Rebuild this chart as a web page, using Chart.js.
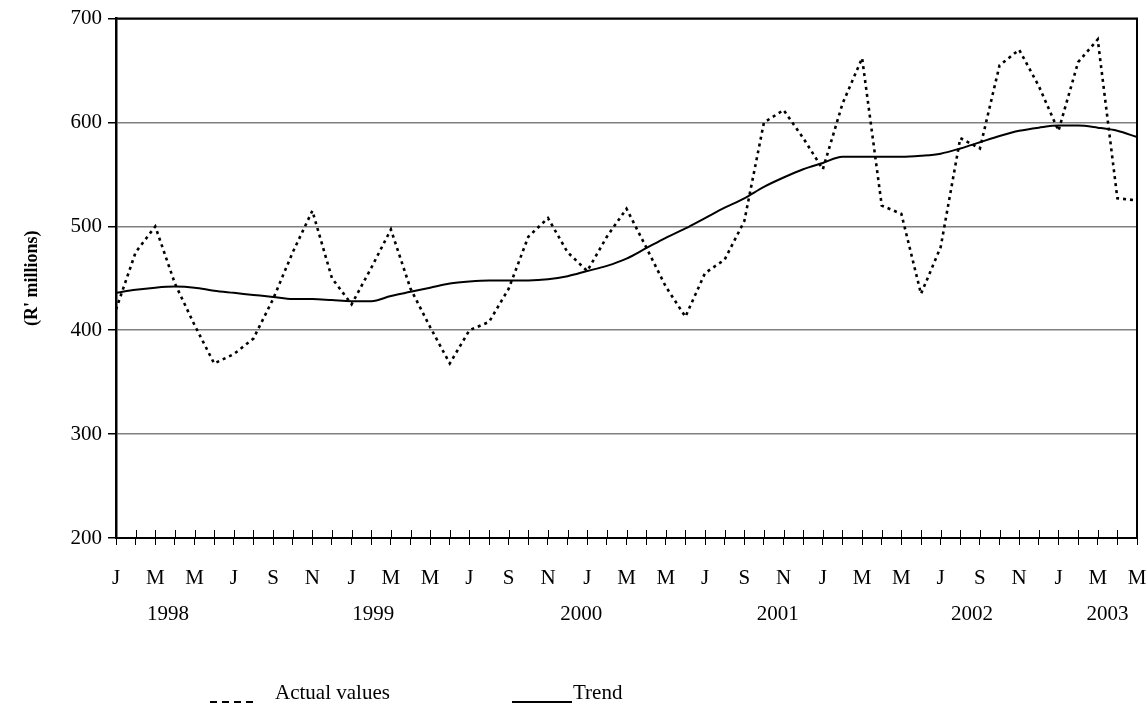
<!DOCTYPE html>
<html>
<head>
<meta charset="utf-8">
<script src="https://cdn.jsdelivr.net/npm/chart.js@4.4.1/dist/chart.umd.min.js"></script>
<style>
  html, body { margin: 0; padding: 0; background: #fff; }
  #wrap { position: relative; width: 1148px; height: 711px; }
  #legend { position: absolute; left: 0; top: 0; width: 1148px; height: 711px; pointer-events: none;
            font-family: "Liberation Serif", "Times New Roman", serif; font-size: 21px; color: #000; }
  #legend span { position: absolute; top: 680px; white-space: nowrap; line-height: 24px; }
  #legend svg { position: absolute; }
</style>
</head>
<body>
<div id="wrap">
  <canvas id="chart" width="1148" height="711"></canvas>
  <div id="legend">
    <svg style="left:210px;top:699px" width="50" height="6"><line x1="0" y1="3" x2="48" y2="3" stroke="#000" stroke-width="2" stroke-dasharray="7 5"/></svg>
    <span style="left:275px">Actual values</span>
    <svg style="left:512px;top:699px" width="62" height="6"><line x1="0" y1="3" x2="60" y2="3" stroke="#000" stroke-width="2"/></svg>
    <span style="left:573px">Trend</span>
  </div>
</div>
<script>
const monthInitials = ["J", "F", "M", "A", "M", "J", "J", "A", "S", "O", "N", "D"];
// Jan 1998 .. May 2002 on the axis, one slot per month
const months = Array.from({ length: 53 }, (_, i) => monthInitials[i % 12]);
const yearLabels = ["1998", "1999", "2000", "2001", "2002", "2003"];
// where the year captions sit under the axis, in month slots
const yearSlots = [2.65, 13.1, 23.7, 33.7, 43.6, 50.5];
const yTicks = [200, 300, 400, 500, 600, 700];

const actualValues = [
  420, 475, 500, 445, 405, 368, 377, 392, 430, 475, 515, 450,
  425, 460, 497, 440, 403, 368, 400, 408, 440, 490, 508, 475,
  457, 490, 517, 480, 442, 413, 455, 468, 505, 600, 612, 585,
  555, 618, 662, 520, 512, 435, 480, 585, 575, 655, 670, 635,
  592, 658, 680, 527, 525
];
const trendValues = [
  436, 439, 441, 442, 441, 438, 436, 434, 432, 430, 430, 429,
  428, 428, 433, 437, 441, 445, 447, 448, 448, 448, 449, 452,
  457, 462, 469, 479, 489, 498, 508, 518, 527, 538, 547, 555,
  561, 567, 567, 567, 567, 568, 570, 575, 581, 587, 592, 595,
  597, 597, 595, 592, 586
];

Chart.defaults.font.family = '"Liberation Serif", "Times New Roman", serif';
Chart.defaults.color = "#000";

// short tick marks above the x axis line, plus the top/right frame
const frame = {
  id: "frame",
  afterDraw(chart) {
    const { ctx, chartArea: a } = chart;
    const x = chart.scales.x;
    ctx.save();
    ctx.strokeStyle = "#000";
    ctx.lineWidth = 1;
    x.ticks.forEach((t, i) => {
      const px = Math.round(x.getPixelForTick(i)) + 0.5;
      ctx.beginPath();
      ctx.moveTo(px, a.bottom - 8);
      ctx.lineTo(px, a.bottom);
      ctx.stroke();
    });
    ctx.lineWidth = 2;
    ctx.beginPath();
    ctx.moveTo(a.left, a.top);
    ctx.lineTo(a.right, a.top);
    ctx.lineTo(a.right, a.bottom);
    ctx.stroke();
    ctx.restore();
  }
};

const noSidePad = (s) => { s.paddingLeft = 0; s.paddingRight = 0; };

new Chart(document.getElementById("chart"), {
  type: "line",
  data: {
    labels: months,
    datasets: [
      { label: "Actual values", data: actualValues, borderColor: "#000", borderWidth: 2.6,
        borderDash: [3, 4], pointRadius: 0, tension: 0, fill: false },
      { label: "Trend", data: trendValues, borderColor: "#000", borderWidth: 2,
        pointRadius: 0, cubicInterpolationMode: "monotone", fill: false }
    ]
  },
  options: {
    responsive: false,
    animation: false,
    devicePixelRatio: 1,
    layout: { padding: { top: 18, right: 11, left: 0, bottom: 0 } },
    plugins: { legend: { display: false }, tooltip: { enabled: false } },
    scales: {
      x: {
        type: "category",
        offset: false,
        weight: 0,
        afterFit: (s) => { s.height = 50; noSidePad(s); },
        border: { display: true, color: "#000", width: 2 },
        grid: { display: true, drawOnChartArea: false, drawTicks: true, tickLength: 7, color: "#000" },
        ticks: {
          autoSkip: false, maxRotation: 0, padding: 21,
          font: { size: 21 },
          callback: (v, i) => (i % 2 === 0 ? months[i] : "")
        }
      },
      x2: {
        type: "linear",
        position: "bottom",
        weight: 1,
        min: 0,
        max: months.length - 1,
        afterFit: (s) => { s.height = 123; noSidePad(s); },
        afterBuildTicks: (s) => { s.ticks = yearSlots.map((v) => ({ value: v })); },
        border: { display: false },
        grid: { display: false },
        ticks: {
          autoSkip: false, maxRotation: 0, padding: 6,
          font: { size: 21 },
          callback: (v, i) => yearLabels[i]
        }
      },
      y: {
        min: 200,
        max: 700,
        afterFit: (s) => { s.width = 116; },
        afterBuildTicks: (s) => { s.ticks = yTicks.map((v) => ({ value: v })); },
        border: { display: true, color: "#000", width: 2.5 },
        grid: {
          drawTicks: true, tickLength: 8, tickColor: "#000", lineWidth: 1.5,
          color: (c) => (c.tick.value === 200 ? "rgba(0,0,0,0)" : c.tick.value === 700 ? "#000" : "#808080")
        },
        ticks: { padding: 6, font: { size: 21 } },
        title: {
          display: true, text: "(R' millions)",
          font: { size: 18, weight: "bold" },
          padding: { top: 22, bottom: 0 }
        }
      }
    }
  },
  plugins: [frame]
});
</script>
</body>
</html>
